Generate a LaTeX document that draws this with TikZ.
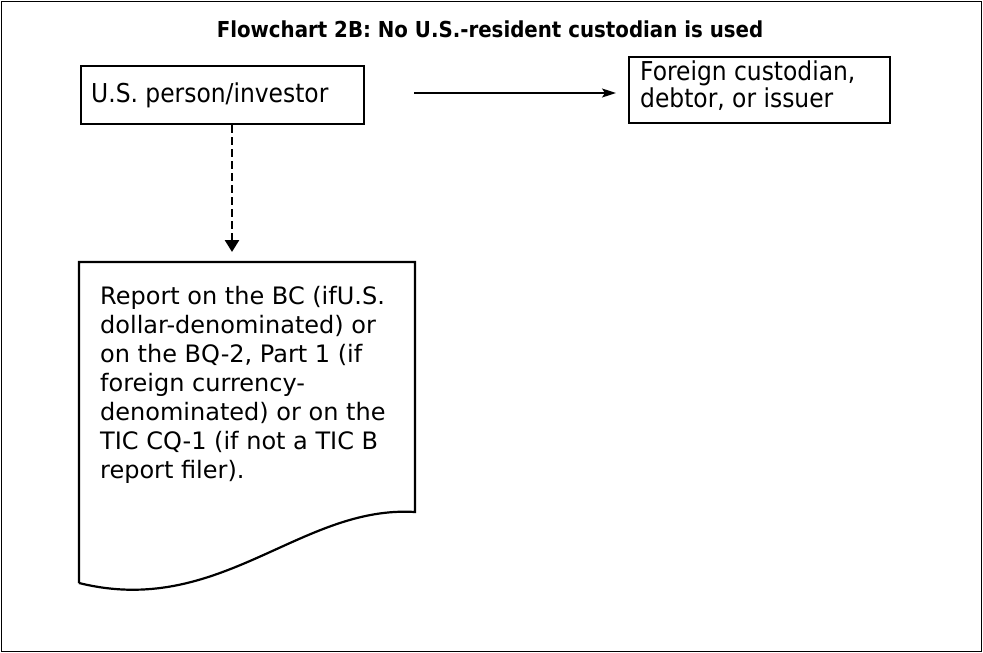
\documentclass[tikz,border=0pt]{standalone}
\usepackage{fontspec}
\setmainfont{DejaVu Sans}
\newfontfamily\narrowfont{DejaVu Sans Condensed}
\usetikzlibrary{arrows.meta}
\tikzset{
  boxstyle/.style={draw=black, line width=2.2pt, rectangle, inner sep=0pt},
  boxtext/.style={font=\narrowfont\fontsize{26}{27}\selectfont, align=left, inner sep=0pt},
  doctext/.style={font=\fontsize{24}{29}\selectfont, align=left, inner sep=0pt},
  arr/.style={line width=1.6pt, -{Stealth[length=14pt,width=9pt,inset=3pt]}},
  dasharr/.style={line width=2.6pt, dash pattern=on 8pt off 4pt, -{Triangle[length=12pt,width=14pt]}},
}
\begin{document}
\begin{tikzpicture}[x=1pt,y=-1pt]
\useasboundingbox (0,0) rectangle (983,653);
\draw[line width=1.6pt] (1.5,1.5) rectangle (981.5,651.5);
\node[font=\narrowfont\fontsize{22}{26}\selectfont\bfseries, inner sep=0pt, anchor=base] (title) at (490,37) {Flowchart 2B: No U.S.-resident custodian is used};
% box 1
\node[boxstyle, minimum width=283pt, minimum height=58pt, anchor=north west] (b1) at (80,65) {};
\node[boxtext, anchor=base west] (b1t) at (91,102) {U.S. person/investor};
% box 2
\node[boxstyle, minimum width=261pt, minimum height=66pt, anchor=north west] (b2) at (628,56) {};
\node[boxtext, anchor=base west] (b2t) at (640,107) {Foreign custodian,\\debtor, or issuer};
% document shape
\coordinate (dtl) at (79,262);
\coordinate (dtr) at (415,262);
\coordinate (dbr) at (415,512);
\coordinate (dbl) at (79,583);
\draw[line width=2.2pt, line join=miter] (dbl) -- (dtl) -- (dtr) -- (dbr)
  .. controls (300,505) and (220,618) .. (dbl);
\node[doctext, anchor=base west] (doct) at (100,478) {Report on the BC (ifU.S.\\dollar-denominated) or\\on the BQ-2, Part 1 (if\\foreign currency-\\denominated) or on the\\TIC CQ-1 (if not a TIC B\\report filer).};
\coordinate (doc) at (232,262);
% connectors
\coordinate (a1) at (414,93);
\draw[arr, shorten >=12pt] (a1) -- (b2.west |- a1);
\draw[dasharr, shorten >=10pt] (b1.south -| doc) -- (doc);
\end{tikzpicture}
\end{document}
